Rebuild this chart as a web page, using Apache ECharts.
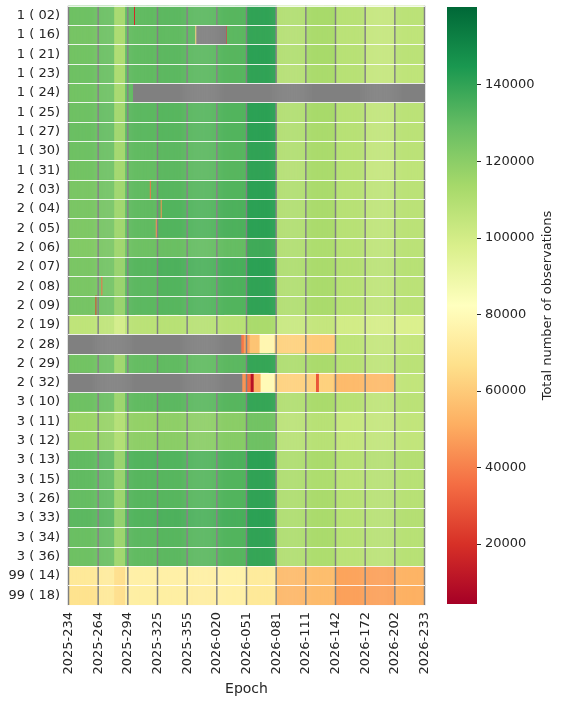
<!DOCTYPE html>
<html>
<head>
<meta charset="utf-8">
<script src="https://cdn.jsdelivr.net/npm/echarts@6/dist/echarts.min.js"></script>
<style>
  html, body { margin: 0; padding: 0; background: #fff; }
  #chart { width: 562px; height: 703px; }
</style>
</head>
<body>
<div id="chart"></div>
<script>
// row labels (top to bottom)
var rowLabels = ['1 ( 02)', '1 ( 16)', '1 ( 21)', '1 ( 23)', '1 ( 24)', '1 ( 25)', '1 ( 27)', '1 ( 30)', '1 ( 31)',
  '2 ( 03)', '2 ( 04)', '2 ( 05)', '2 ( 06)', '2 ( 07)', '2 ( 08)', '2 ( 09)', '2 ( 19)', '2 ( 28)', '2 ( 29)', '2 ( 32)',
  '3 ( 10)', '3 ( 11)', '3 ( 12)', '3 ( 13)', '3 ( 15)', '3 ( 26)', '3 ( 33)', '3 ( 34)', '3 ( 36)',
  '99 ( 14)', '99 ( 18)'];

// epoch tick labels, one every 30 columns
var epochTicks = ['2025-234', '2025-264', '2025-294', '2025-325', '2025-355', '2026-020', '2026-051',
  '2026-081', '2026-111', '2026-142', '2026-172', '2026-202', '2026-233'];
var tickStep = 30;
var nCols = 361;

// column blocks, and the level read for each block (x1000 observations)
var blockStarts = [0, 30, 47, 58, 90, 120, 150, 180, 210, 240, 270, 300, 330];
var levels = [
  [127, 128, 114, 130, 131, 131, 132, 140, 110, 113, 108, 104, 107], // 1 ( 02)
  [125, 127, 113, 129, 130, 131, 131, 139, 109, 112, 107, 104, 106], // 1 ( 16)
  [126, 128, 112, 130, 131, 131, 132, 141, 110, 113, 108, 104, 107], // 1 ( 21)
  [127, 128, 113, 130, 131, 131, 132, 140, 109, 112, 108, 104, 106], // 1 ( 23)
  [126, 127, 114, 130, 131, 131, 132, 140, 110, 112, 108, 104, 106], // 1 ( 24)
  [127, 129, 115, 131, 132, 132, 133, 141, 110, 113, 108, 105, 107], // 1 ( 25)
  [128, 129, 116, 131, 132, 132, 133, 141, 110, 112, 108, 105, 107], // 1 ( 27)
  [127, 128, 115, 130, 131, 131, 132, 140, 110, 112, 108, 105, 107], // 1 ( 30)
  [126, 127, 115, 129, 131, 131, 132, 140, 109, 112, 108, 104, 106], // 1 ( 31)
  [124, 126, 116, 130, 132, 132, 133, 141, 110, 112, 108, 106, 107], // 2 ( 03)
  [124, 125, 116, 130, 133, 133, 134, 141, 110, 112, 108, 106, 107], // 2 ( 04)
  [123, 125, 116, 130, 133, 133, 134, 141, 110, 112, 108, 106, 107], // 2 ( 05)
  [122, 124, 116, 127, 128, 129, 129, 137, 110, 111, 108, 106, 107], // 2 ( 06)
  [124, 126, 118, 132, 134, 134, 135, 141, 111, 112, 109, 107, 108], // 2 ( 07)
  [124, 126, 118, 131, 133, 133, 134, 140, 110, 112, 108, 106, 107], // 2 ( 08)
  [125, 127, 118, 131, 132, 133, 133, 140, 110, 112, 108, 106, 107], // 2 ( 09)
  [106, 106, 100, 107, 108, 108, 108, 112, 103, 104, 100, 99, 97],   // 2 ( 19)
  null,                                                             // 2 ( 28)
  [126, 127, 116, 129, 130, 130, 131, 139, 111, 112, 108, 106, 107], // 2 ( 29)
  null,                                                             // 2 ( 32)
  [127, 128, 117, 130, 131, 131, 132, 139, 110, 112, 108, 106, 107], // 3 ( 10)
  [116, 117, 110, 118, 119, 119, 120, 126, 107, 108, 103, 104, 105], // 3 ( 11)
  [117, 118, 111, 119, 120, 120, 121, 127, 108, 108, 104, 105, 105], // 3 ( 12)
  [130, 131, 118, 133, 133, 133, 134, 141, 111, 112, 108, 109, 109], // 3 ( 13)
  [130, 130, 118, 132, 132, 132, 133, 140, 111, 111, 107, 108, 108], // 3 ( 15)
  [129, 130, 117, 132, 132, 132, 133, 140, 111, 112, 108, 108, 108], // 3 ( 26)
  [131, 132, 119, 133, 134, 134, 135, 141, 111, 112, 108, 108, 109], // 3 ( 33)
  [128, 129, 117, 131, 132, 132, 133, 140, 111, 112, 108, 108, 108], // 3 ( 34)
  [127, 128, 116, 130, 131, 131, 132, 139, 110, 111, 107, 107, 108], // 3 ( 36)
  [71, 72, 66, 75, 75, 74, 76, 72, 55, 56, 49, 48, 53],             // 99 ( 14)
  [68, 71, 66, 74, 74, 73, 75, 71, 54, 55, 48, 48, 52]              // 99 ( 18)
];

// [row, startCol, endCol, level x1000] for rows that start late
var segments = [
  [17, 175, 178, 38], [17, 178, 184, 48], [17, 184, 194, 58], [17, 194, 209, 78],
  [17, 209, 240, 62], [17, 240, 270, 60], [17, 270, 300, 106], [17, 300, 330, 104], [17, 330, 361, 104],
  [19, 176, 180, 45], [19, 180, 185, 35], [19, 185, 188, 10], [19, 188, 195, 52], [19, 195, 209, 80],
  [19, 209, 251, 62], [19, 251, 254, 30], [19, 254, 269, 62], [19, 269, 330, 55], [19, 330, 361, 105]
];

// single-day drops [row, col, level x1000]
var spikes = [[0, 67, 18], [1, 129, 62], [1, 160, 25], [9, 83, 38], [10, 94, 45],
  [11, 89, 45], [13, 60, 62], [14, 34, 35], [15, 28, 22]];

// no data: [row, startCol, endCol]
var gaps = [[1, 130, 160], [4, 66, 361], [17, 0, 175], [19, 0, 176]];
var emptyCols = [0, 30, 60, 90, 120, 150, 180, 210, 240, 270, 300, 330, 360];

var colorMin = 4300;
var colorMax = 160300;
var colorbarTicks = [20000, 40000, 60000, 80000, 100000, 120000, 140000];
var rdYlGn = ['#a50026', '#d73027', '#f46d43', '#fdae61', '#fee08b', '#ffffbf',
  '#d9ef8b', '#a6d96a', '#66bd63', '#1a9850', '#006837'];

function inGap(r, c) {
  for (var i = 0; i < gaps.length; i++) {
    if (gaps[i][0] === r && c >= gaps[i][1] && c < gaps[i][2]) return true;
  }
  return false;
}

var colIds = [];
for (var c = 0; c < nCols; c++) colIds.push(String(c));

var cells = [];
var grayCells = [];
for (var r = 0; r < rowLabels.length; r++) {
  for (var c = 0; c < nCols; c++) {
    if (emptyCols.indexOf(c) >= 0 || inGap(r, c)) {
      grayCells.push([c, r, 1]);
      continue;
    }
    var v = null;
    if (levels[r]) {
      for (var b = blockStarts.length - 1; b >= 0; b--) {
        if (c >= blockStarts[b]) { v = levels[r][b]; break; }
      }
    }
    segments.forEach(function (s) {
      if (s[0] === r && c >= s[1] && c < s[2]) v = s[3];
    });
    spikes.forEach(function (s) {
      if (s[0] === r && s[1] === c) v = s[2];
    });
    if (v !== null) cells.push([c, r, v * 1000]);
  }
}

var chart = echarts.init(document.getElementById('chart'));
var textColor = '#262626';
var option = {
  animation: false,
  backgroundColor: '#fff',
  textStyle: { fontFamily: 'DejaVu Sans' },
  grid: [
    { left: 68, top: 6, width: 357, height: 599 },
    { left: 447, top: 7, width: 30, height: 597 }
  ],
  xAxis: [{
    type: 'category',
    gridIndex: 0,
    data: colIds,
    axisLine: { show: false },
    axisTick: { interval: tickStep - 1, alignWithLabel: true, length: 4, lineStyle: { color: textColor } },
    axisLabel: {
      interval: tickStep - 1, rotate: 90, margin: 7, fontSize: 13, color: textColor,
      formatter: function (v, i) { return epochTicks[i / tickStep] || ''; }
    },
    splitLine: { show: false },
    name: 'Epoch',
    nameLocation: 'middle',
    nameGap: 76,
    nameTextStyle: { fontSize: 14, color: textColor }
  }, {
    type: 'category',
    gridIndex: 1,
    data: [''],
    show: false
  }],
  yAxis: [{
    type: 'category',
    gridIndex: 0,
    data: rowLabels,
    inverse: true,
    z: 5,
    axisLine: { show: false },
    axisTick: { alignWithLabel: true, length: 4, lineStyle: { color: textColor } },
    axisLabel: { fontSize: 13, margin: 8, color: textColor },
    splitLine: { show: true, lineStyle: { color: 'rgba(255,255,255,0.85)', width: 1 } }
  }, {
    type: 'value',
    gridIndex: 1,
    position: 'right',
    min: colorMin,
    max: colorMax,
    axisLine: { show: false },
    axisTick: { show: true, length: 4, customValues: colorbarTicks, lineStyle: { color: textColor } },
    axisLabel: {
      customValues: colorbarTicks, margin: 8, fontSize: 13, color: textColor,
      formatter: function (v) { return String(v); }
    },
    splitLine: { show: false },
    name: 'Total number of observations',
    nameLocation: 'middle',
    nameRotate: 90,
    nameGap: 64,
    nameTextStyle: { fontSize: 13, color: textColor }
  }],
  visualMap: {
    show: false,
    type: 'continuous',
    min: colorMin,
    max: colorMax,
    seriesIndex: 0,
    inRange: { color: rdYlGn }
  },
  series: [{
    type: 'heatmap',
    data: cells,
    progressive: 0,
    emphasis: { disabled: true }
  }, {
    type: 'heatmap',
    data: grayCells,
    progressive: 0,
    itemStyle: { color: '#808080' },
    emphasis: { disabled: true }
  }, {
    type: 'bar',
    xAxisIndex: 1,
    yAxisIndex: 1,
    stack: 'bar',
    barWidth: '100%',
    data: [colorMin],
    itemStyle: { color: 'rgba(0,0,0,0)' },
    silent: true
  }, {
    type: 'bar',
    xAxisIndex: 1,
    yAxisIndex: 1,
    stack: 'bar',
    barWidth: '100%',
    data: [colorMax - colorMin],
    itemStyle: {
      color: new echarts.graphic.LinearGradient(0, 1, 0, 0, rdYlGn.map(function (col, i) {
        return { offset: i / (rdYlGn.length - 1), color: col };
      }))
    },
    silent: true
  }]
};
chart.setOption(option);
</script>
</body>
</html>
